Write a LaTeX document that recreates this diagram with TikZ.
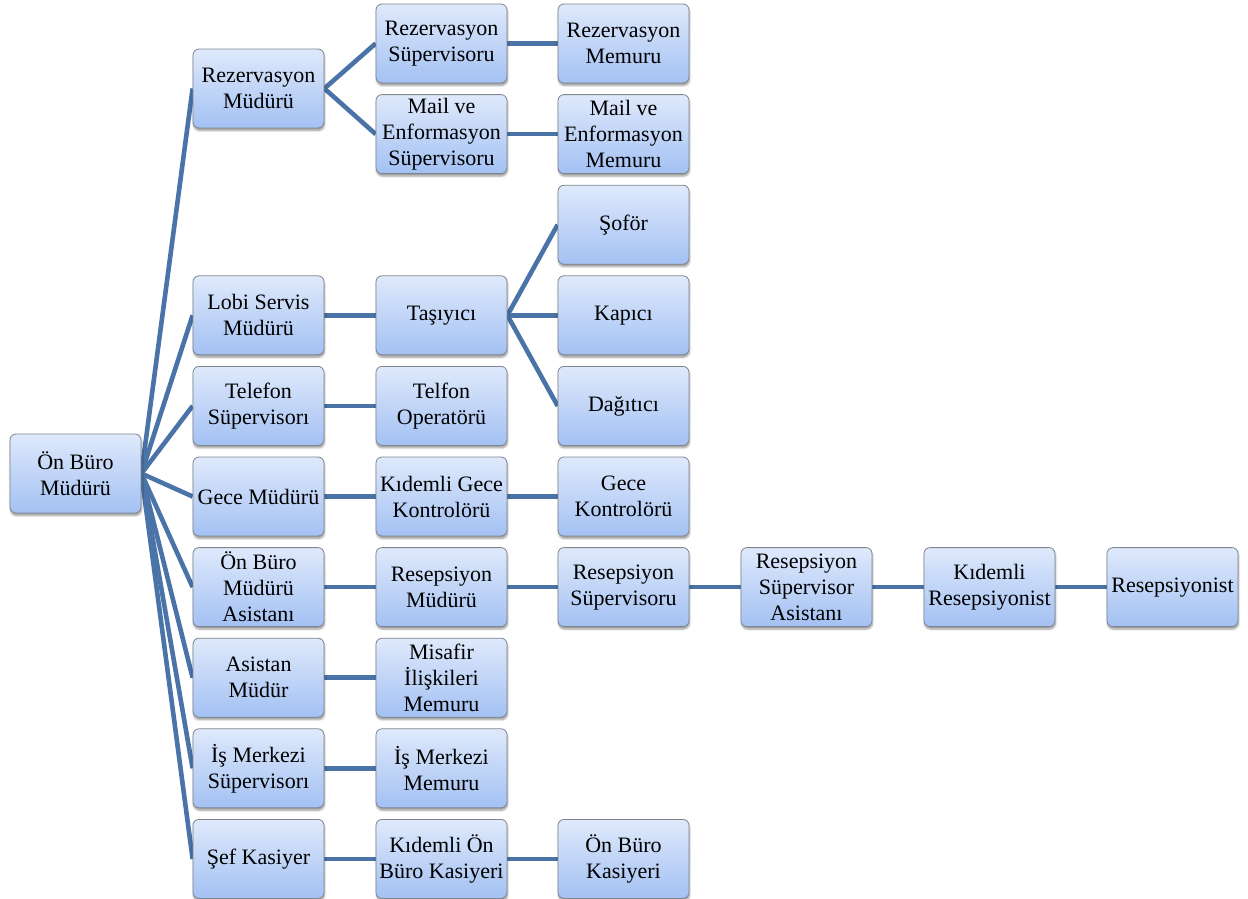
\documentclass[tikz,border=0pt]{standalone}
\usepackage{fontspec}
\setmainfont{Liberation Serif}
\usetikzlibrary{shadows.blur}
\pgfdeclarelayer{background}
\pgfsetlayers{background,main}

\definecolor{linkblue}{HTML}{4A73A8}
\definecolor{boxtop}{HTML}{DFE9FB}
\definecolor{boxbottom}{HTML}{A3C1F3}
\definecolor{boxedge}{HTML}{7E8690}

\tikzset{
  orgbox/.style={rectangle, rounded corners=6pt, draw=boxedge, line width=0.8pt,
    top color=boxtop, bottom color=boxbottom,
    minimum width=131pt, minimum height=79pt, inner sep=0pt, align=center,
    font=\fontsize{22}{26}\selectfont,
    blur shadow={shadow xshift=0.5pt, shadow yshift=-2.5pt, shadow blur steps=6, shadow opacity=40}},
  link/.style={draw=linkblue, line width=4.6pt}
}

\begin{document}
\begin{tikzpicture}[x=1pt, y=-1pt]
\useasboundingbox (0,0) rectangle (1248,899);

% column centres and row pitch
\def\cA{75.5}
\def\cB{258.5}
\def\cC{441.5}
\def\cD{623.5}
\def\cE{806.5}
\def\cF{989.5}
\def\cG{1172.5}
\def\rowy#1{\fpeval{43.5+90.6*#1}}

% top of the hierarchy
\node[orgbox] (root) at (\cA,473.5) {Ön Büro\\Müdürü};

% managers reporting to the head of front office
\node[orgbox] (rezm) at (\cB,88.5) {Rezervasyon\\Müdürü};
\node[orgbox] (lobi) at (\cB,\rowy{3}) {Lobi Servis\\Müdürü};
\node[orgbox] (tels) at (\cB,\rowy{4}) {Telefon\\Süpervisorı};
\node[orgbox] (gece) at (\cB,\rowy{5}) {Gece Müdürü};
\node[orgbox] (obas) at (\cB,\rowy{6}) {Ön Büro\\Müdürü\\Asistanı};
\node[orgbox] (asis) at (\cB,\rowy{7}) {Asistan\\Müdür};
\node[orgbox] (isms) at (\cB,\rowy{8}) {İş Merkezi\\Süpervisorı};
\node[orgbox] (sefk) at (\cB,\rowy{9}) {Şef Kasiyer};

% second level
\node[orgbox] (rezs) at (\cC,\rowy{0}) {Rezervasyon\\Süpervisoru};
\node[orgbox] (mais) at (\cC,\rowy{1}) {Mail ve\\Enformasyon\\Süpervisoru};
\node[orgbox] (tasi) at (\cC,\rowy{3}) {Taşıyıcı};
\node[orgbox] (telo) at (\cC,\rowy{4}) {Telfon\\Operatörü};
\node[orgbox] (kgec) at (\cC,\rowy{5}) {Kıdemli Gece\\Kontrolörü};
\node[orgbox] (resm) at (\cC,\rowy{6}) {Resepsiyon\\Müdürü};
\node[orgbox] (mism) at (\cC,\rowy{7}) {Misafir\\İlişkileri\\Memuru};
\node[orgbox] (ismm) at (\cC,\rowy{8}) {İş Merkezi\\Memuru};
\node[orgbox] (kobk) at (\cC,\rowy{9}) {Kıdemli Ön\\Büro Kasiyeri};

% third level
\node[orgbox] (rezme) at (\cD,\rowy{0}) {Rezervasyon\\Memuru};
\node[orgbox] (maim) at (\cD,\rowy{1}) {Mail ve\\Enformasyon\\Memuru};
\node[orgbox] (sofo) at (\cD,\rowy{2}) {Şoför};
\node[orgbox] (kapi) at (\cD,\rowy{3}) {Kapıcı};
\node[orgbox] (dagi) at (\cD,\rowy{4}) {Dağıtıcı};
\node[orgbox] (geck) at (\cD,\rowy{5}) {Gece\\Kontrolörü};
\node[orgbox] (ress) at (\cD,\rowy{6}) {Resepsiyon\\Süpervisoru};
\node[orgbox] (obk)  at (\cD,\rowy{9}) {Ön Büro\\Kasiyeri};

% reception chain
\node[orgbox] (rsa) at (\cE,\rowy{6}) {Resepsiyon\\Süpervisor\\Asistanı};
\node[orgbox] (kres) at (\cF,\rowy{6}) {Kıdemli\\Resepsiyonist};
\node[orgbox] (resp) at (\cG,\rowy{6}) {Resepsiyonist};

% connectors, parent east side to child west side
\begin{pgfonlayer}{background}
\foreach \c in {rezm,lobi,tels,gece,obas,asis,isms,sefk}
  \draw[link] (root.east) -- (\c.west);
\draw[link] (rezm.east) -- (rezs.west);
\draw[link] (rezm.east) -- (mais.west);
\draw[link] (rezs.east) -- (rezme.west);
\draw[link] (mais.east) -- (maim.west);
\draw[link] (lobi.east) -- (tasi.west);
\foreach \c in {sofo,kapi,dagi}
  \draw[link] (tasi.east) -- (\c.west);
\draw[link] (tels.east) -- (telo.west);
\draw[link] (gece.east) -- (kgec.west);
\draw[link] (kgec.east) -- (geck.west);
\draw[link] (obas.east) -- (resm.west);
\draw[link] (resm.east) -- (ress.west);
\draw[link] (ress.east) -- (rsa.west);
\draw[link] (rsa.east) -- (kres.west);
\draw[link] (kres.east) -- (resp.west);
\draw[link] (asis.east) -- (mism.west);
\draw[link] (isms.east) -- (ismm.west);
\draw[link] (sefk.east) -- (kobk.west);
\draw[link] (kobk.east) -- (obk.west);
\end{pgfonlayer}
\end{tikzpicture}
\end{document}
